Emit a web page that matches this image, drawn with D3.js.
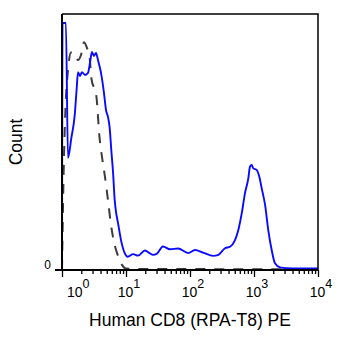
<!DOCTYPE html>
<html>
<head>
<meta charset="utf-8">
<script src="https://cdn.jsdelivr.net/npm/d3@7"></script>
<style>
  html, body { margin: 0; padding: 0; background: #fff; }
  svg { display: block; }
  text { font-family: "Liberation Sans", Arial, sans-serif; fill: #000; }
</style>
</head>
<body>
<svg id="chart" width="353" height="349"></svg>
<script>
// ---- data ----
const sampleX = [1.00, 1.02, 1.15, 1.24, 1.40, 1.58, 1.69, 1.78, 1.91, 2.05, 2.29, 2.55, 2.74, 2.94, 3.16, 3.40, 3.65, 4.07, 4.53, 4.87, 5.23, 5.56, 5.89, 6.27, 6.66, 6.98, 7.50, 8.45, 9.55, 10.6, 12.9, 15.4, 19.8, 22.1, 26.3, 30.2, 37.8, 48.7, 65.0, 94, 120, 160, 231, 277, 352, 422, 505, 569, 643, 723, 815, 866, 921, 975, 1100, 1210, 1320, 1490, 1670, 1890, 2130, 2550, 3240, 5240, 10000];
const sampleY = [0, 96.5, 96.5, 43.8, 51.6, 60.5, 70.3, 77.3, 75.8, 77.3, 76.2, 77.0, 81.0, 85.2, 83.6, 84.8, 82.0, 77.0, 69.1, 62.5, 59.8, 55.5, 46.9, 38.3, 27.3, 22.7, 18.4, 11.1, 6.6, 5.2, 6.2, 5.6, 7.6, 7.0, 5.9, 6.3, 9.2, 8.1, 8.4, 6.6, 7.8, 6.8, 5.5, 5.9, 8.5, 9.1, 11.7, 15.6, 22.1, 30.0, 35.8, 40.4, 41.0, 39.7, 39.1, 36.4, 31.9, 25.4, 15.6, 7.8, 2.6, 1.0, 0.7, 0.6, 0.6];

const controlX = [1.00, 1.04, 1.13, 1.24, 1.38, 1.54, 1.78, 1.98, 2.21, 2.46, 2.71, 2.87, 3.44, 3.85, 4.22, 4.70, 5.23, 5.77, 6.49, 7.50, 8.66, 10.0, 16.6, 10000];
const controlY = [0, 27, 62.5, 78, 85, 84.8, 82, 84, 89, 86.7, 82.8, 75, 68, 52, 44.1, 36.3, 27.3, 18.4, 10.9, 5.5, 2.0, 0.6, 0.4, 0.3];

const majorTicks = [1, 10, 100, 1000, 10000];
const tickExponents = ["0", "1", "2", "3", "4"];
const yTickValues = [0];
const yTickLabels = ["0"];
const xTitle = "Human CD8 (RPA-T8) PE";
const yTitle = "Count";

// ---- layout ----
const mLeft = 62, mRight = 318, mTop = 14, mBottom = 270;
const svg = d3.select("#chart");

const x = d3.scaleLog().domain([1, 10000]).range([mLeft, mRight]);
const y = d3.scaleLinear().domain([0, 100]).range([mBottom, mTop]);

const minorTicks = [];
for (let d = 1; d < 10000; d *= 10) for (let k = 2; k <= 9; k++) minorTicks.push(d * k);

// curves
const line = d3.line().x(d => x(d[0])).y(d => y(d[1])).curve(d3.curveMonotoneX);

svg.append("path")
  .datum(controlX.map((v, i) => [v, controlY[i]]))
  .attr("d", line)
  .attr("fill", "none")
  .attr("stroke", "#3c3c3c")
  .attr("stroke-width", 2)
  .attr("stroke-dasharray", "10,9");

svg.append("path")
  .datum(sampleX.map((v, i) => [v, sampleY[i]]))
  .attr("d", line)
  .attr("fill", "none")
  .attr("stroke", "#0a0aff")
  .attr("stroke-width", 1.9)
  .attr("stroke-linejoin", "round");

// frame (top/right)
svg.append("path")
  .attr("d", `M${mLeft},${mTop}H${mRight}V${mBottom}`)
  .attr("fill", "none").attr("stroke", "#000").attr("stroke-width", 1.5);

// y axis line
svg.append("line")
  .attr("x1", mLeft).attr("x2", mLeft).attr("y1", mTop).attr("y2", mBottom)
  .attr("stroke", "#000").attr("stroke-width", 2);

// x axis: minor + major ticks
const gMinor = svg.append("g").attr("transform", `translate(0,${mBottom})`)
  .call(d3.axisBottom(x).tickValues(minorTicks).tickSize(4).tickFormat(""));
const gMajor = svg.append("g").attr("transform", `translate(0,${mBottom})`)
  .call(d3.axisBottom(x).tickValues(majorTicks).tickSize(7).tickFormat(""));
[gMinor, gMajor].forEach(g => {
  g.select(".domain").remove();
  g.selectAll("line").attr("stroke", "#000").attr("stroke-width", 1.3);
});
// baseline (extends slightly left as y-tick at 0)
svg.append("line")
  .attr("x1", 55).attr("x2", mRight).attr("y1", y(0)).attr("y2", y(0))
  .attr("stroke", "#000").attr("stroke-width", 2);

// x tick labels with superscripts
majorTicks.forEach((t, i) => {
  const px = x(t);
  const txt = svg.append("text")
    .attr("y", 297)
    .attr("font-size", 14)
    .attr("fill", "#000");
  if (i === 0) {
    txt.attr("x", px + 5).attr("text-anchor", "start");
  } else {
    txt.attr("x", px + 3).attr("text-anchor", "middle");
  }
  txt.append("tspan").text("10");
  txt.append("tspan").attr("dy", -9).attr("font-size", 12.5).text(tickExponents[i]);
});

// y tick label
yTickValues.forEach((v, i) => {
  svg.append("text")
    .attr("x", 51).attr("y", y(v) - 1)
    .attr("text-anchor", "end")
    .attr("font-size", 12)
    .text(yTickLabels[i]);
});

// titles
svg.append("text")
  .attr("x", 190).attr("y", 326)
  .attr("text-anchor", "middle")
  .attr("font-size", 17.5)
  .text(xTitle);

svg.append("text")
  .attr("transform", `translate(22,${(mTop + mBottom) / 2}) rotate(-90)`)
  .attr("text-anchor", "middle")
  .attr("font-size", 17.5)
  .text(yTitle);
</script>
</body>
</html>
